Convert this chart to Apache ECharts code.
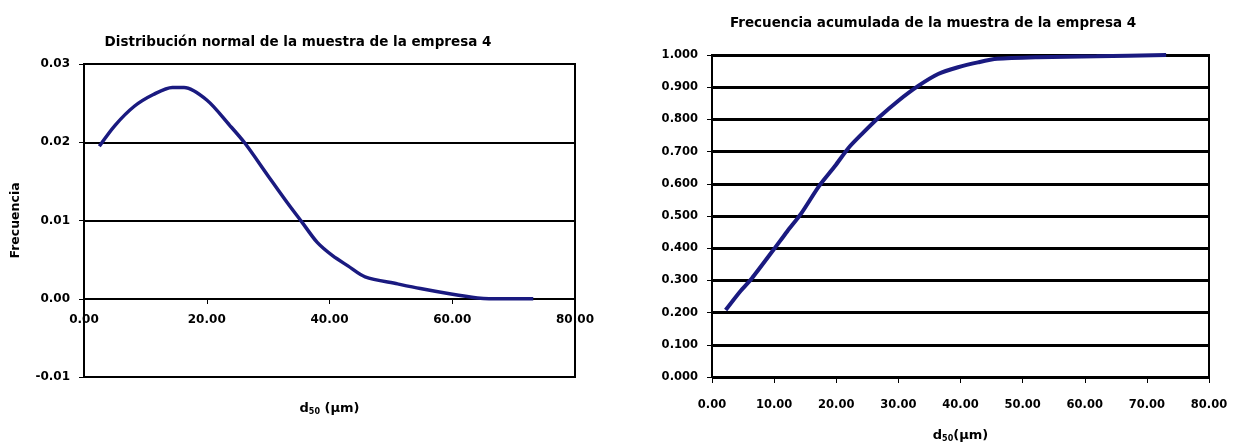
<!DOCTYPE html>
<html>
<head>
<meta charset="utf-8">
<script src="https://cdn.jsdelivr.net/npm/echarts@6/dist/echarts.min.js"></script>
<style>
html,body{margin:0;padding:0;background:#fff;}
#chart{width:1243px;height:443px;}
</style>
</head>
<body>
<div id="chart"></div>
<script>
// Left chart: normal distribution (x = d50 µm, y = frequency)
const normalX = [2.5, 5.1, 8.2, 11.3, 14.4, 16.3, 20.0, 23.7, 26.2, 30.0, 33.1, 35.6, 38.0, 40.5, 43.0, 45.8, 51.1, 54.8, 59.8, 64.1, 66.0, 73.2];
const normalY = [0.0195, 0.0222, 0.0246, 0.0261, 0.0270, 0.0270, 0.0254, 0.0222, 0.0199, 0.0157, 0.0123, 0.0097, 0.0072, 0.0055, 0.0042, 0.0028, 0.0019, 0.0013, 0.0006, 0.0001, 0.0000, 0.0000];
// Right chart: cumulative frequency
const cumX = [2.2, 4.5, 6.4, 9.9, 12.1, 14.4, 17.2, 19.8, 22.0, 24.3, 26.8, 30.0, 33.2, 36.4, 39.6, 42.8, 45.9, 52.4, 61.9, 73.1];
const cumY = [0.208, 0.265, 0.306, 0.395, 0.452, 0.509, 0.592, 0.655, 0.712, 0.758, 0.805, 0.858, 0.904, 0.941, 0.962, 0.977, 0.988, 0.993, 0.996, 1.000];

const leftTitle = 'Distribución normal de la muestra de la empresa 4';
const rightTitle = 'Frecuencia acumulada de la muestra de la empresa 4';
const leftYName = 'Frecuencia';

const FONT = 'DejaVu Sans';
const lineColor = '#1a1a80';
const labelL = {color:'#000', fontFamily:FONT, fontWeight:'bold', fontSize:12};
const labelR = {color:'#000', fontFamily:FONT, fontWeight:'bold', fontSize:11.5};
const nameRich = {
  d:{fontFamily:FONT, fontWeight:'bold', fontSize:13, color:'#000'},
  s:{fontFamily:FONT, fontWeight:'bold', fontSize:8, color:'#000', verticalAlign:'bottom', padding:[6,0,0,0]}
};

const chart = echarts.init(document.getElementById('chart'), null, {renderer:'canvas'});
chart.setOption({
  animation:false,
  backgroundColor:'#fff',
  title:[
    {text:leftTitle, left:293, top:30, textAlign:'center', textStyle:{fontFamily:FONT, fontWeight:'bold', fontSize:13.5, color:'#000'}},
    {text:rightTitle, left:928, top:11, textAlign:'center', textStyle:{fontFamily:FONT, fontWeight:'bold', fontSize:13.5, color:'#000'}}
  ],
  grid:[
    {left:84, right:668, top:64, bottom:66, show:true, borderColor:'#000', borderWidth:2, backgroundColor:'transparent', outerBoundsMode:'none', containLabel:false},
    {left:712, right:34, top:55, bottom:66, show:true, borderColor:'#000', borderWidth:2, backgroundColor:'transparent', outerBoundsMode:'none', containLabel:false}
  ],
  xAxis:[
    {type:'value', gridIndex:0, min:0, max:80, interval:20, position:'bottom', offset:-78,
     axisLine:{show:true, onZero:false, lineStyle:{color:'#000', width:2}},
     axisTick:{show:true, length:5, lineStyle:{color:'#000', width:1}},
     axisLabel:Object.assign({margin:15, formatter:v=>v.toFixed(2)}, labelL),
     splitLine:{show:false},
     name:'{d|d}{s|50}{d| (µm)}', nameLocation:'middle', nameGap:103,
     nameTextStyle:{rich:nameRich}},
    {type:'value', gridIndex:1, min:0, max:80, interval:10,
     axisLine:{show:true, onZero:false, lineStyle:{color:'#000', width:2}},
     axisTick:{show:true, length:6, lineStyle:{color:'#000', width:1}},
     axisLabel:Object.assign({margin:22, formatter:v=>v.toFixed(2)}, labelR),
     splitLine:{show:false},
     name:'{d|d}{s|50}{d|(µm)}', nameLocation:'middle', nameGap:52,
     nameTextStyle:{rich:nameRich}}
  ],
  yAxis:[
    {type:'value', gridIndex:0, min:-0.01, max:0.03, interval:0.01,
     axisLine:{show:true, onZero:false, lineStyle:{color:'#000', width:2}},
     axisTick:{show:true, length:5, lineStyle:{color:'#000', width:1}},
     axisLabel:Object.assign({margin:14, formatter:v=>(Math.abs(v)<1e-9?0:v).toFixed(2)}, labelL),
     splitLine:{show:true, lineStyle:{color:'#000', width:2}},
     name:leftYName, nameLocation:'middle', nameGap:62, nameRotate:90,
     nameTextStyle:{fontFamily:FONT, fontWeight:'bold', fontSize:12.5, color:'#000'}},
    {type:'value', gridIndex:1, min:0, max:1, interval:0.1,
     axisLine:{show:true, onZero:false, lineStyle:{color:'#000', width:2}},
     axisTick:{show:true, length:5, lineStyle:{color:'#000', width:1}},
     axisLabel:Object.assign({margin:14, formatter:v=>v.toFixed(3)}, labelR),
     splitLine:{show:true, lineStyle:{color:'#000', width:3}}}
  ],
  series:[
    {type:'line', xAxisIndex:0, yAxisIndex:0, showSymbol:false, smooth:0.3,
     lineStyle:{color:lineColor, width:3.5}, data:normalX.map((x,i)=>[x, normalY[i]])},
    {type:'line', xAxisIndex:1, yAxisIndex:1, showSymbol:false, smooth:0.25,
     lineStyle:{color:lineColor, width:4}, data:cumX.map((x,i)=>[x, cumY[i]])}
  ]
});
</script>
</body>
</html>
